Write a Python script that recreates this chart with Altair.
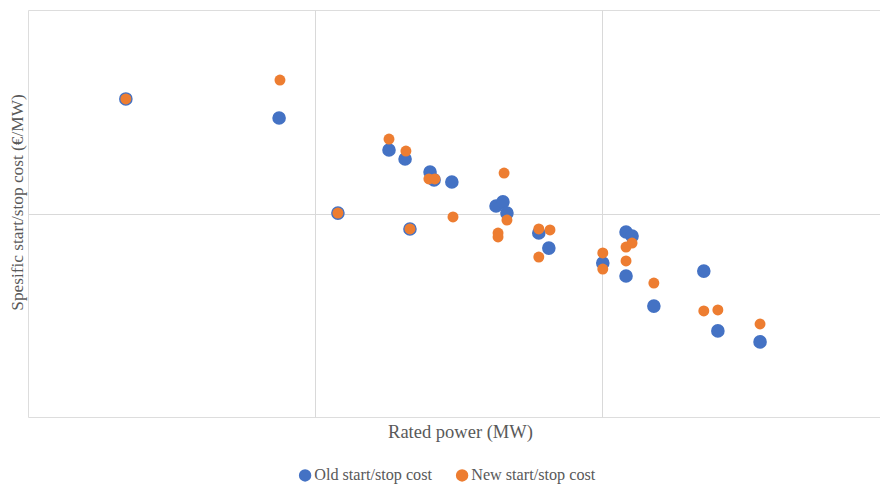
import altair as alt
import pandas as pd

# Old start/stop cost (blue)
old_x = [34.1, 87.5, 125.8, 131.4, 140.1, 141.5, 147.7, 108.0, 133.1, 163.1, 165.5,
         166.9, 178.0, 181.5, 200.3, 208.4, 210.5, 208.4, 218.1, 235.5, 240.4, 255.1]
old_y = [1563, 1469, 1312, 1268, 1204, 1165, 1155, 1002, 924, 1037, 1057,
         1002, 904, 830, 757, 909, 889, 693, 545, 717, 423, 369]

# New start/stop cost (orange)
new_x = [34.1, 87.8, 125.8, 131.7, 139.7, 141.8, 108.0, 133.1, 148.1, 165.9, 166.9,
         163.8, 163.8, 178.0, 181.9, 178.0, 200.3, 200.3, 208.4, 210.5, 208.4,
         218.1, 235.5, 240.4, 255.1]
new_y = [1563, 1656, 1366, 1307, 1170, 1170, 1002, 924, 983, 1199, 968,
         904, 885, 924, 919, 786, 806, 727, 835, 855, 767,
         658, 521, 526, 457]

series_names = ["Old start/stop cost", "New start/stop cost"]
series_colors = ["#4472C4", "#ED7D31"]

df_old = pd.DataFrame({"power": old_x, "cost": old_y, "series": series_names[0]})
df_new = pd.DataFrame({"power": new_x, "cost": new_y, "series": series_names[1]})

FONT = "Liberation Serif"
GREY = "#595959"

xenc = alt.X("power:Q", scale=alt.Scale(domain=[0, 296.9], nice=False, zero=False),
             axis=alt.Axis(values=[100, 200], labels=False, ticks=False, domain=False,
                           grid=True, gridColor="#d9d9d9", title="Rated power (MW)",
                           titleFont=FONT, titleFontSize=18.5, titleFontWeight="normal",
                           titleColor=GREY, titlePadding=5, titleX=432))
yenc = alt.Y("cost:Q", scale=alt.Scale(domain=[0, 2000], nice=False),
             axis=alt.Axis(values=[1000], labels=False, ticks=False, domain=False,
                           grid=True, gridColor="#d9d9d9",
                           title="Spesific start/stop cost (€/MW)",
                           titleFont=FONT, titleFontSize=17.3, titleFontWeight="normal",
                           titleColor=GREY, titlePadding=2, titleY=192))
color = alt.Color("series:N",
                  scale=alt.Scale(domain=series_names, range=series_colors),
                  legend=alt.Legend(title=None, orient="none", direction="horizontal",
                                    legendX=269, legendY=457,
                                    symbolType="circle", symbolSize=154,
                                    symbolStrokeWidth=0, symbolOpacity=1,
                                    labelFont=FONT, labelFontSize=16.2, labelColor=GREY,
                                    labelOffset=1, columnPadding=21))

old_layer = alt.Chart(df_old).mark_circle(size=185, opacity=1).encode(x=xenc, y=yenc, color=color)
new_layer = alt.Chart(df_new).mark_circle(size=120, opacity=1).encode(x=xenc, y=yenc, color=color)

chart = alt.layer(old_layer, new_layer).properties(
    width=852, height=407,
    autosize=alt.AutoSizeParams(type="none"),
    padding={"left": 20, "top": 2, "right": 0, "bottom": 67},
).configure_view(stroke="#d9d9d9", strokeWidth=1).configure(background="white")

chart.save("out.html", embed_options={"renderer": "svg", "actions": False})
